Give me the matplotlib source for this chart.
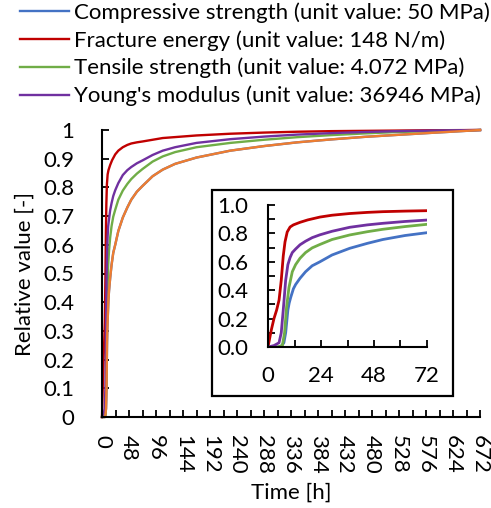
import numpy as np
import matplotlib
matplotlib.use('Agg')
import matplotlib.pyplot as plt
from matplotlib.patches import Rectangle
from matplotlib.ticker import MultipleLocator, FuncFormatter

plt.rcParams['font.family'] = ['Lato', 'DejaVu Sans']

# Relative values (time in hours)
t_comp = [0, 5.7, 7.2, 8, 9, 9.6, 10.3, 11.5, 12.5, 14.5, 17, 20, 23.5, 29, 37, 45, 52, 62, 72,
          90, 108, 130, 168, 228, 288, 347, 406, 466, 525, 585, 630, 672]
v_comp = [0, 0, 0.03, 0.1, 0.26, 0.31, 0.35, 0.41, 0.44, 0.484, 0.53, 0.572, 0.60, 0.648, 0.695, 0.73, 0.757, 0.785, 0.805,
          0.839, 0.862, 0.882, 0.904, 0.928, 0.944, 0.957, 0.967, 0.976, 0.983, 0.99, 0.995, 1.0]

t_frac = [0, 1.5, 2.7, 3.9, 5, 6, 6.9, 7.7, 8.7, 10, 11.5, 14.5, 18, 23.5, 29, 37, 45, 52, 62, 72,
          108, 168, 228, 288, 347, 407, 466, 525, 585, 672]
v_frac = [0, 0.12, 0.2, 0.26, 0.33, 0.47, 0.64, 0.74, 0.81, 0.845, 0.86, 0.878, 0.895, 0.915, 0.928, 0.94, 0.948, 0.953, 0.957, 0.96,
          0.972, 0.981, 0.987, 0.991, 0.994, 0.996, 0.997, 0.998, 0.999, 1.0]

t_tens = [0, 4.2, 6.5, 7.5, 8.4, 9.5, 11, 12.5, 14.5, 17, 20, 23.5, 29, 37, 45, 52, 62, 72,
          90, 108, 130, 168, 228, 288, 347, 406, 466, 525, 585, 630, 672]
v_tens = [0, 0, 0.01, 0.1, 0.28, 0.42, 0.53, 0.58, 0.625, 0.665, 0.698, 0.722, 0.757, 0.789, 0.812, 0.829, 0.848, 0.864,
          0.89, 0.908, 0.923, 0.94, 0.955, 0.966, 0.975, 0.982, 0.988, 0.993, 0.996, 0.998, 1.0]

t_young = [0, 2.7, 5, 6, 6.9, 8, 9, 10, 11, 12.5, 14.5, 17, 20, 23.5, 29, 37, 45, 52, 62, 72,
           90, 108, 130, 168, 228, 288, 347, 406, 466, 525, 585, 630, 672]
v_young = [0, 0.01, 0.03, 0.1, 0.26, 0.47, 0.58, 0.63, 0.665, 0.69, 0.72, 0.745, 0.77, 0.79, 0.815, 0.843, 0.86, 0.871, 0.884, 0.894,
           0.913, 0.928, 0.94, 0.955, 0.968, 0.977, 0.984, 0.989, 0.993, 0.996, 0.998, 0.999, 1.0]

labels = ['Compressive strength (unit value: 50 MPa)',
          'Fracture energy (unit value: 148 N/m)',
          'Tensile strength (unit value: 4.072 MPa)',
          "Young's modulus (unit value: 36946 MPa)"]
colors = ['#4472C4', '#C00000', '#70AD47', '#7030A0']
orange = '#ED7D31'

series = [(t_comp, v_comp), (t_frac, v_frac), (t_tens, v_tens), (t_young, v_young)]

fs = 16
fig = plt.figure(figsize=(4.91, 5.08), dpi=100)

# main axes
ax = fig.add_axes([102/491, 1 - 417/508, 378/491, 287/508])
handles = []
for (t, v), c, lab in zip(series, colors, labels):
    h, = ax.plot(t, v, color=c, lw=1.7, label=lab, clip_on=False)
    handles.append(h)
# orange copy drawn over the compressive curve in the main plot
ax.plot(t_comp, v_comp, color=orange, lw=1.7, clip_on=False)

ax.set_xlim(0, 672)
ax.set_ylim(0, 1)
ax.xaxis.set_major_locator(MultipleLocator(48))
ax.xaxis.set_minor_locator(MultipleLocator(24))
ax.yaxis.set_major_locator(MultipleLocator(0.1))
ax.yaxis.set_major_formatter(FuncFormatter(lambda y, p: '%g' % round(y, 2)))
ax.spines['top'].set_visible(False)
ax.spines['right'].set_visible(False)
for s in ['left', 'bottom']:
    ax.spines[s].set_linewidth(1.5)
ax.tick_params(axis='both', which='both', direction='in', width=1.3, length=5, labelsize=fs)
ax.tick_params(axis='y', pad=20)
ax.tick_params(axis='x', pad=13, labelrotation=-90)
ax.set_xlabel('Time [h]', fontsize=fs, labelpad=6)
ax.set_ylabel('Relative value [-]', fontsize=fs, labelpad=6)

# inset frame
fig.add_artist(Rectangle((212/491, 1 - 396/508), 241/491, 206/508, transform=fig.transFigure,
                         facecolor='white', edgecolor='black', lw=1.6, zorder=2))

ins = fig.add_axes([268/491, 1 - 347/508, 159/491, 142/508], zorder=3)
ins.patch.set_alpha(0)
for (t, v), c in zip(series, colors):
    ins.plot(t, v, color=c, lw=2, clip_on=True)
ins.set_xlim(0, 72)
ins.set_ylim(0, 1)
ins.xaxis.set_major_locator(MultipleLocator(24))
ins.xaxis.set_minor_locator(MultipleLocator(12))
ins.yaxis.set_major_locator(MultipleLocator(0.2))
ins.yaxis.set_minor_locator(MultipleLocator(0.1))
ins.yaxis.set_major_formatter(FuncFormatter(lambda y, p: '%.1f' % y))
ins.spines['top'].set_visible(False)
ins.spines['right'].set_visible(False)
for s in ['left', 'bottom']:
    ins.spines[s].set_linewidth(1.5)
ins.tick_params(axis='both', which='both', direction='in', width=1.3, length=5, labelsize=fs)
ins.tick_params(axis='y', pad=14)
ins.tick_params(axis='x', pad=14)

fig.legend(handles=handles, loc='upper left', bbox_to_anchor=(20/491, 1 - 2/508),
           frameon=False, fontsize=fs, handlelength=2.2, handletextpad=0.25,
           labelspacing=0.33, borderpad=0, borderaxespad=0)

fig.savefig('out.png', dpi=100)
